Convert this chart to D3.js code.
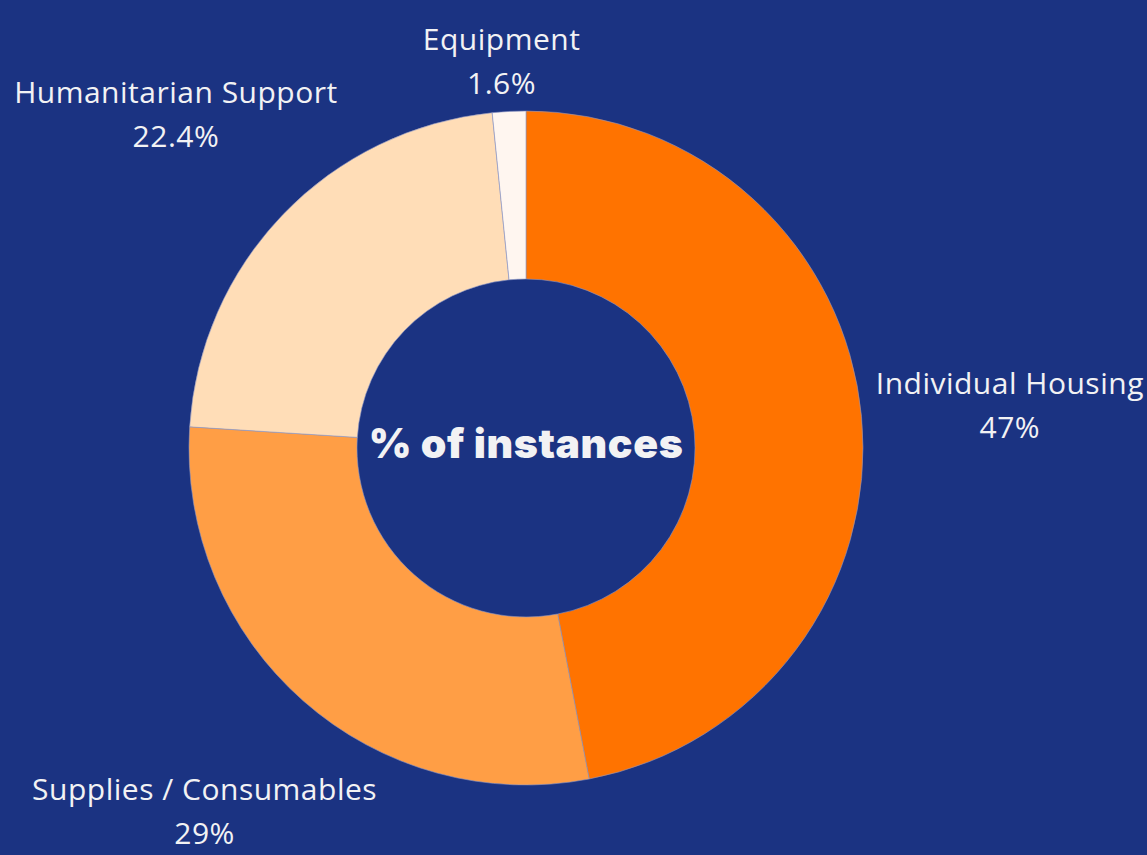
<!DOCTYPE html>
<html>
<head>
<meta charset="utf-8">
<script src="https://cdn.jsdelivr.net/npm/d3@7"></script>
<style>
  html, body { margin: 0; padding: 0; background: #1b3382; }
  svg { display: block; }
</style>
</head>
<body>
<svg id="chart" width="1147" height="855"></svg>
<script>
// data
var categories = ["Individual Housing", "Supplies / Consumables", "Humanitarian Support", "Equipment"];
var shares = [47, 29, 22.4, 1.6];
var shareLabels = ["47%", "29%", "22.4%", "1.6%"];
var sliceColors = ["#ff7300", "#ff9e45", "#ffddb7", "#fff6f0"];

var width = 1147, height = 855;
var cx = 526, cy = 448;
var outerR = 337, innerR = 169, labelR = 486;

var svg = d3.select("#chart");

svg.append("rect")
  .attr("width", width)
  .attr("height", height)
  .attr("fill", "#1b3382");

var rows = categories.map(function(c, i) {
  return { name: c, value: shares[i], label: shareLabels[i], color: sliceColors[i] };
});

var pie = d3.pie()
  .sort(null)
  .value(function(d) { return d.value; });

var arc = d3.arc().innerRadius(innerR).outerRadius(outerR);
var labelArc = d3.arc().innerRadius(labelR).outerRadius(labelR);

var g = svg.append("g").attr("transform", "translate(" + cx + "," + cy + ")");

var slices = pie(rows);

g.selectAll("path.slice")
  .data(slices)
  .enter()
  .append("path")
  .attr("class", "slice")
  .attr("d", arc)
  .attr("fill", function(d) { return d.data.color; })
  .attr("stroke", "#8c96c4")
  .attr("stroke-width", 0.6);

// labels, two lines each, kept inside the page
var labels = g.selectAll("g.label")
  .data(slices)
  .enter()
  .append("g")
  .attr("class", "label")
  .attr("transform", function(d) {
    var p = labelArc.centroid(d);
    var y = Math.min(Math.max(p[1], 58 - cy), 808 - cy);
    return "translate(" + p[0] + "," + y + ")";
  });

labels.append("text")
  .attr("y", -8)
  .attr("text-anchor", "middle")
  .attr("fill", "#f2f2f4")
  .style("font-family", "'Open Sans', sans-serif")
  .style("font-size", "30px")
  .style("letter-spacing", "0.5px")
  .text(function(d) { return d.data.name; });

labels.append("text")
  .attr("y", 36)
  .attr("text-anchor", "middle")
  .attr("fill", "#f2f2f4")
  .style("font-family", "'Open Sans', sans-serif")
  .style("font-size", "30px")
  .style("letter-spacing", "0.5px")
  .text(function(d) { return d.data.label; });

// centre title
g.append("text")
  .attr("y", 10)
  .attr("text-anchor", "middle")
  .attr("fill", "#f2f2f4")
  .style("font-family", "Inter, Lato, sans-serif")
  .style("font-weight", 900)
  .style("font-size", "41px")
  .style("letter-spacing", "0.6px")
  .text("% of instances");
</script>
</body>
</html>
